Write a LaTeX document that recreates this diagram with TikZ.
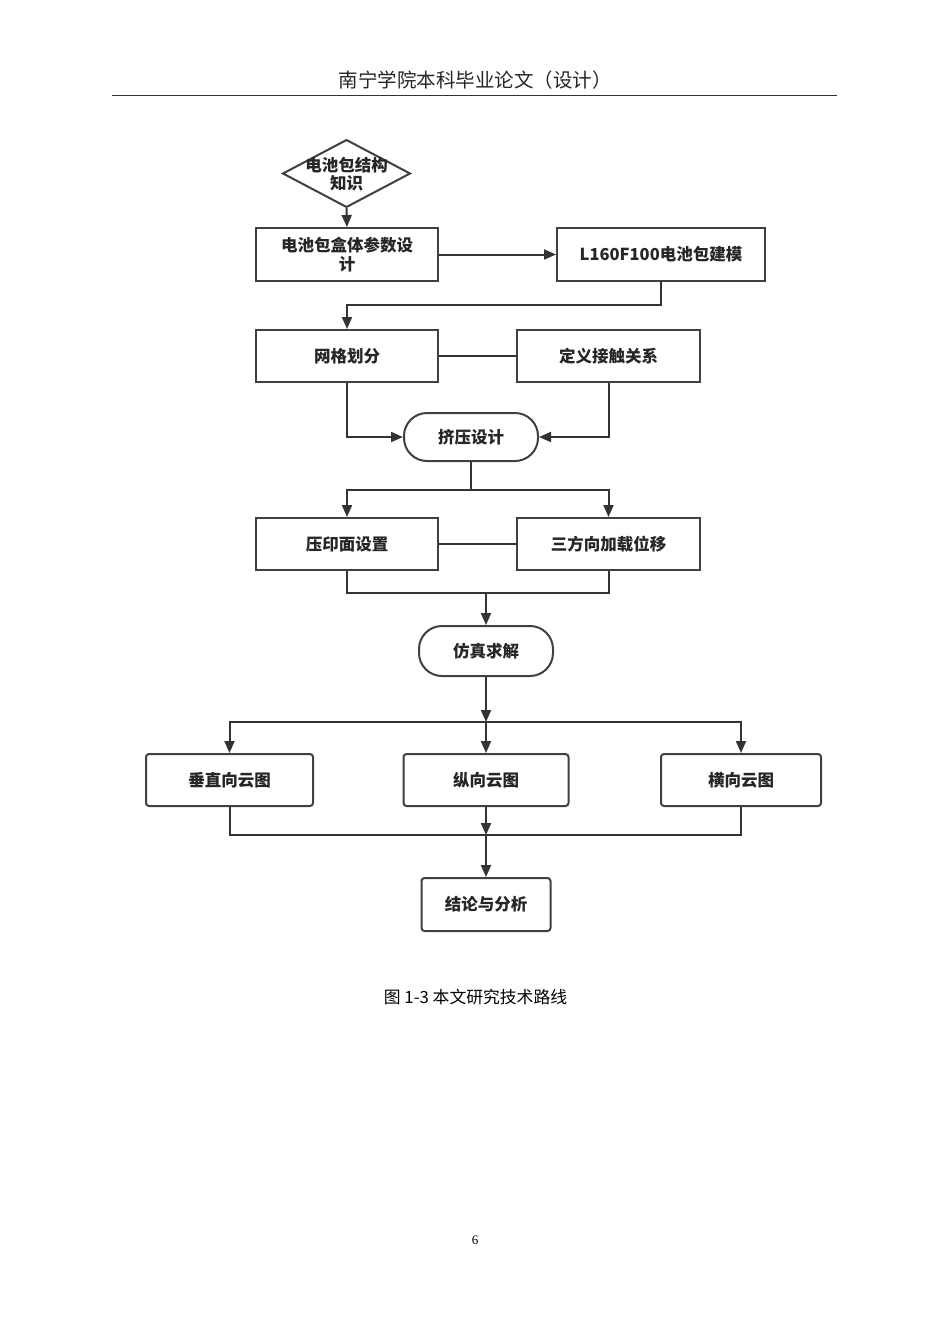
\documentclass[tikz,border=0pt]{standalone}
\usepackage{fontspec}
\setmainfont{Noto Sans CJK SC}
\newfontfamily\cjk{Noto Sans CJK SC}
\newfontfamily\pgserif{Liberation Serif}
\usetikzlibrary{arrows.meta,positioning,calc}
\tikzset{
  ln/.style={draw=black!80, line width=2pt},
  arr/.style={ln, -{Triangle[length=12pt,width=10pt]}},
  bx/.style={draw=black!75, line width=2pt, rectangle, inner sep=0pt, font=\cjk\bfseries\fontsize{16.5}{20}\selectfont, text=black!85, align=center},
  rbx/.style={bx, rounded corners=3pt},
  stad/.style={bx, rounded corners=23pt},
}
\begin{document}
\begin{tikzpicture}[x=1pt,y=1pt]
\useasboundingbox[fill=white] (0,0) rectangle (950,-1344);
% header
\node[font=\cjk\fontsize{19.5}{22}\selectfont, text=black!85] (hdr) at (475,-80) {南宁学院本科毕业论文（设计）};
\draw[line width=1.5pt, draw=black!80] (112,-95.5) -- (837,-95.5);
% diamond
\draw[line width=2pt, draw=black!75] (283,-173.5) -- (346.5,-140) -- (410,-173.5) -- (346.5,-207) -- cycle;
\node[inner sep=0pt, minimum width=127pt, minimum height=67pt, font=\cjk\bfseries\fontsize{16.5}{18}\selectfont, text=black!85, align=center] (d) at (346.5,-174.5) {电池包结构\\知识};
% boxes
\node[bx, minimum width=182pt, minimum height=53pt, font=\cjk\bfseries\fontsize{16.5}{19}\selectfont] (b1) at (347,-254.5) {电池包盒体参数设\\计};
\node[bx, minimum width=208pt, minimum height=53pt] (b2) at (661,-254.5) {L160F100电池包建模};
\node[bx, minimum width=182pt, minimum height=52pt] (b3) at (347,-356) {网格划分};
\node[bx, minimum width=183pt, minimum height=52pt] (b4) at (608.5,-356) {定义接触关系};
\node[stad, minimum width=134pt, minimum height=48pt] (s1) at (471,-437) {挤压设计};
\node[bx, minimum width=182pt, minimum height=52pt] (b5) at (347,-544) {压印面设置};
\node[bx, minimum width=183pt, minimum height=52pt] (b6) at (608.5,-544) {三方向加载位移};
\node[stad, minimum width=134pt, minimum height=50pt] (s2) at (486,-651) {仿真求解};
\node[rbx, minimum width=167pt, minimum height=52pt] (b7) at (229.5,-780) {垂直向云图};
\node[rbx, minimum width=165pt, minimum height=52pt] (b8) at (486,-780) {纵向云图};
\node[rbx, minimum width=160pt, minimum height=52pt] (b9) at (741,-780) {横向云图};
\node[rbx, minimum width=129pt, minimum height=53pt] (b10) at (486,-904.5) {结论与分析};
% junctions
\coordinate (j0) at (661,-305);
\coordinate (j1) at (471,-490);
\coordinate (j2) at (486,-593);
\coordinate (j3) at (486,-722);
\coordinate (j4) at (486,-835);
% connectors
\draw[arr] (d.south) -- (b1.north);
\draw[arr] (b1.east) -- (b2.west);
\draw[arr] (b2.south) -- (j0) -| (b3.north);
\draw[ln] (b3.east) -- (b4.west);
\draw[arr] (b3.south) |- (s1.west);
\draw[arr] (b4.south) |- (s1.east);
\draw[ln] (s1.south) -- (j1);
\draw[arr] (j1) -| (b5.north);
\draw[arr] (j1) -| (b6.north);
\draw[ln] (b5.east) -- (b6.west);
\draw[ln] (b5.south) |- (j2) -| (b6.south);
\draw[arr] (j2) -- (s2.north);
\draw[arr] (s2.south) -- (j3);
\draw[arr] (j3) -| (b7.north);
\draw[arr] (j3) -- (b8.north);
\draw[arr] (j3) -| (b9.north);
\draw[ln] (b7.south) |- (j4) -| (b9.south);
\draw[arr] (b8.south) -- (j4);
\draw[arr] (j4) -- (b10.north);
% caption & page number
\node[font=\cjk\fontsize{16.8}{20}\selectfont, text=black] (cap) at (475.5,-997) {图 1-3 本文研究技术路线};
\node[font=\pgserif\fontsize{13}{15}\selectfont, text=black] (pg) at (475,-1240) {6};
\end{tikzpicture}
\end{document}
